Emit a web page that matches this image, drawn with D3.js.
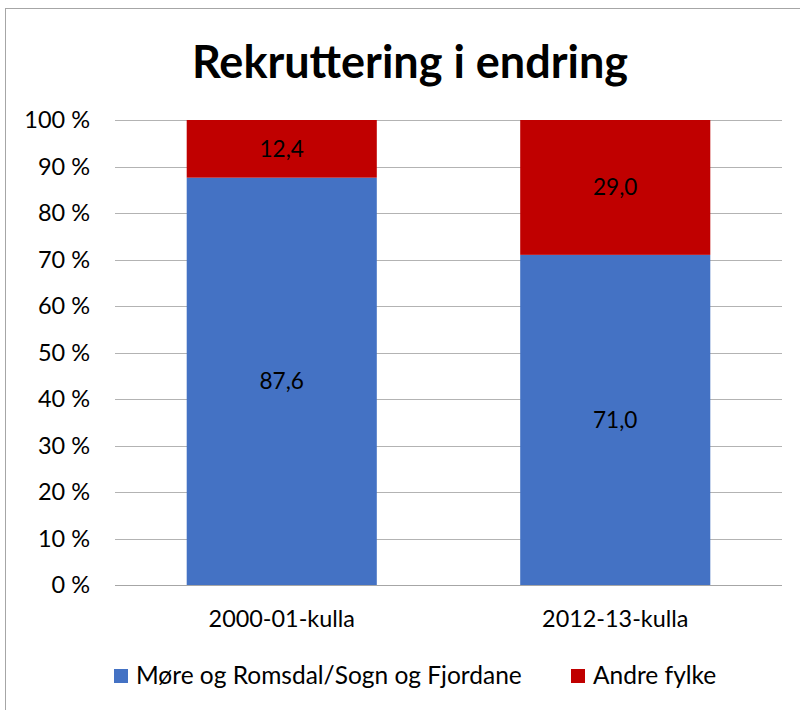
<!DOCTYPE html>
<html><head><meta charset="utf-8">
<script src="https://cdn.jsdelivr.net/npm/d3@7"></script>
<style>body{margin:0;background:#fff}</style>
</head><body>
<svg id="c" width="800" height="710"></svg>
<script>
const categories = ["2000-01-kulla", "2012-13-kulla"];
const seriesNames = ["Møre og Romsdal/Sogn og Fjordane", "Andre fylke"];
const seriesColors = ["#4472C4", "#C00000"];
const moreValues = [87.6, 71.0];
const andreValues = [12.4, 29.0];
const yTicks = [0,10,20,30,40,50,60,70,80,90,100];
const title = "Rekruttering i endring";

const font = "Lato, 'Open Sans', sans-serif";
const svg = d3.select("#c");
svg.append("rect").attr("x",5.5).attr("y",8.5).attr("width",800).attr("height",710)
  .attr("fill","#fff").attr("stroke","#a6a6a6").attr("stroke-width",1);

const x = d3.scaleBand().domain(categories).range([115,782]).paddingInner(0.43).paddingOuter(0.215);
const y = d3.scaleLinear().domain([0,100]).range([585,120]);

svg.append("text").attr("x",410).attr("y",78).attr("text-anchor","middle")
  .attr("font-family",font).attr("font-weight","bold").attr("font-size",45).attr("fill","#000").text(title);

// gridlines
svg.append("g").selectAll("line").data(yTicks).join("line")
  .attr("x1",115).attr("x2",782).attr("y1",d=>Math.round(y(d))+0.5).attr("y2",d=>Math.round(y(d))+0.5)
  .attr("stroke","#b3b3b3").attr("stroke-width",1);

const yAxis = d3.axisLeft(y).tickValues(yTicks).tickFormat(d=>d+" %").tickSize(0).tickPadding(0);
const ya = svg.append("g").attr("transform","translate(90,0)").call(yAxis);
ya.select(".domain").remove();
ya.selectAll("text").attr("font-family",font).attr("font-size",23.5).attr("fill","#000");

const stackData = categories.map((c,i)=>({cat:c, a:moreValues[i], b:andreValues[i]}));
const stack = d3.stack().keys(["a","b"])(stackData);
svg.append("g").selectAll("g").data(stack).join("g").attr("fill",(d,i)=>seriesColors[i])
  .selectAll("rect").data(d=>d).join("rect")
  .attr("x",d=>x(d.data.cat)).attr("width",x.bandwidth())
  .attr("y",d=>y(d[1])).attr("height",d=>y(d[0])-y(d[1]));

const fmt = v => v.toFixed(1).replace(".",",");
svg.append("g").selectAll("g").data(stack).join("g")
  .selectAll("text").data(d=>d.map(s=>({s,key:d.key}))).join("text")
  .attr("x",d=>x(d.s.data.cat)+x.bandwidth()/2)
  .attr("y",d=>y((d.s[0]+d.s[1])/2)+8)
  .attr("text-anchor","middle").attr("font-family",font).attr("font-size",22.6).attr("fill","#000")
  .text(d=>fmt(d.s.data[d.key]));

// baseline
svg.append("line").attr("x1",115).attr("x2",782).attr("y1",585.5).attr("y2",585.5).attr("stroke","#a6a6a6");

const xAxis = d3.axisBottom(x).tickSize(0).tickPadding(0);
const xa = svg.append("g").attr("transform","translate(0,610)").call(xAxis);
xa.select(".domain").remove();
xa.selectAll("text").attr("font-family",font).attr("font-size",23.4).attr("fill","#000");

// legend
const legX = [114, 571];
const lg = svg.append("g").selectAll("g").data(seriesNames).join("g")
  .attr("transform",(d,i)=>`translate(${legX[i]},669)`);
lg.append("rect").attr("width",14).attr("height",14).attr("fill",(d,i)=>seriesColors[i]);
lg.append("text").attr("x",22).attr("y",15).attr("font-family",font).attr("font-size",24.5).attr("fill","#000").text(d=>d);
</script>
</body></html>
